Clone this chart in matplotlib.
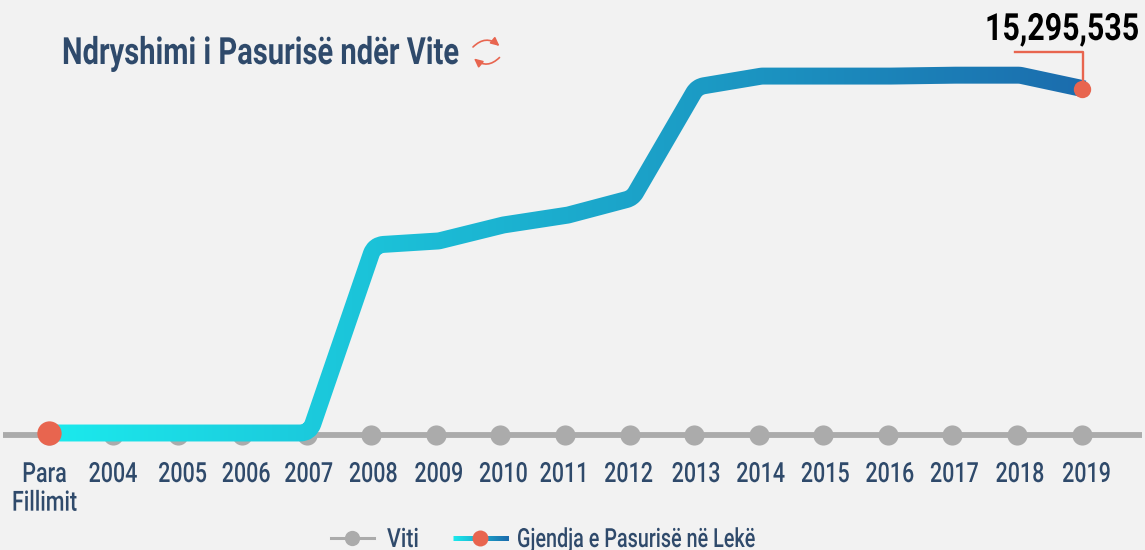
import numpy as np
import matplotlib
matplotlib.use('Agg')
import matplotlib.pyplot as plt
from matplotlib.patches import FancyArrowPatch, PathPatch, Rectangle
from matplotlib.path import Path
from matplotlib.colors import LinearSegmentedColormap
from matplotlib.patheffects import AbstractPathEffect
from matplotlib.transforms import Affine2D, IdentityTransform

labels = ['Para\nFillimit', '2004', '2005', '2006', '2007', '2008', '2009', '2010', '2011',
          '2012', '2013', '2014', '2015', '2016', '2017', '2018', '2019']
pasuria = [0, 0, 0, 0, 0, 8360000, 8540000, 9250000, 9690000, 10450000,
           15390000, 15870000, 15870000, 15870000, 15910000, 15910000, 15295535]
viti = [0] * 17
label_nudge = [-4, 0, 5, 4, 2, 2, 3, 3, -1, -1, 2, 2, 2, 2, 2, 3, 5]

W, H = 1145, 550
NAVY = '#2f4a6b'
RED = '#e8654f'
GREY = '#ababab'
BG = '#f2f2f2'
plt.rcParams['font.family'] = ['Roboto', 'DejaVu Sans']


# the original font is a condensed one, so squeeze the glyphs around an anchor
class Squeeze(AbstractPathEffect):
    def __init__(self, x0, sx):
        super().__init__()
        self.x0 = x0
        self.sx = sx

    def draw_path(self, renderer, gc, tpath, affine, rgbFace=None):
        squeeze = Affine2D().translate(-self.x0, 0).scale(self.sx, 1).translate(self.x0, 0)
        renderer.draw_path(gc, tpath, affine + squeeze, rgbFace)


fig = plt.figure(figsize=(W / 100, H / 100), dpi=100, facecolor=BG)
renderer = fig.canvas.get_renderer()
ax2 = fig.add_axes([0, 0, 1, 1])
ax = fig.add_axes([0, 0, 1, 1])
ax.patch.set_visible(False)
ax.axis('off')
ax2.axis('off')

# pixel layout of the category axis and the value axis
x_step = (1081.5 - 48.5) / 16
ax.set_xlim(-48.5 / x_step, (W - 48.5) / x_step)
y_step = 15295535 / (433 - 89)
ax.set_ylim(-(H - 433) * y_step, 433 * y_step)
ax2.set_xlim(ax.get_xlim())
ax2.set_ylim(-(H - 435), 435)

x = np.arange(len(labels))

# grey year line
ax2.plot([-0.7, 16.93], [0, 0], color=GREY, lw=4.2, solid_capstyle='butt')
ax2.plot(x, viti, 'o', color=GREY, ms=14.5, mew=0)

# rounded corners on the line, in display coordinates, stronger on sharp turns
pix = (ax.transData + Affine2D().translate(3, 0)).transform(np.column_stack([x, pasuria]))
verts = [pix[0]]
codes = [Path.MOVETO]
for a, b, c in zip(pix[:-2], pix[1:-1], pix[2:]):
    u = (b - a) / np.linalg.norm(b - a)
    v = (c - b) / np.linalg.norm(c - b)
    d = 8 * np.arccos(np.clip(u @ v, -1, 1))
    verts += [b - u * d, b, b + v * d]
    codes += [Path.LINETO, Path.CURVE3, Path.CURVE3]
verts.append(pix[-1])
codes.append(Path.LINETO)
line_path = Path(verts, codes)

# gradient line, drawn in thin vertical strips
cmap = LinearSegmentedColormap.from_list('pas', ['#1be9ec', '#1b6cad'])
for px in range(40, 1096, 4):
    t = np.clip((px - 49) / (1081 - 49), 0, 1)
    p = PathPatch(line_path, fill=False, ec=cmap(t), lw=12.2, transform=IdentityTransform(),
                  joinstyle='round', capstyle='butt')
    ax.add_patch(p)
    p.set_clip_path(Rectangle((px, 0), 4, H, transform=IdentityTransform()))

ax.plot(x[0], pasuria[0], 'o', color=RED, ms=17.5, mew=0, zorder=5)
ax.plot(x[-1], pasuria[-1], 'o', color=RED, ms=12.5, mew=0, zorder=5)


def px_xy(px, py):
    return px / W, 1 - py / H


def fig_text(px, py, s, target, ha='left', **kw):
    t = fig.text(*px_xy(px, py), s, ha=ha, va='baseline', **kw)
    sx = target / t.get_window_extent(renderer).width
    t.set_path_effects([Squeeze(px, sx)])
    return t


# category labels
probe = fig.text(0, 0, '2004', fontsize=20, fontweight='medium')
tick_sx = 49 / probe.get_window_extent(renderer).width
probe.remove()
for i, lab in enumerate(labels):
    t = ax.annotate(lab, (x[i], 0), xycoords=('data', 'axes fraction'),
                    xytext=(label_nudge[i] * 0.72, (H - 461) * 0.72), textcoords='offset points',
                    ha='center', va='top', fontsize=20, fontweight='medium', color=NAVY, linespacing=1.08)
    t.set_path_effects([Squeeze(ax.transData.transform((x[i], 0))[0] + label_nudge[i], tick_sx)])

# title and refresh icon
fig_text(62, 64, 'Ndryshimi i Pasurisë ndër Vite', 397, fontsize=27, fontweight='bold', color=NAVY)
for a, b in [((473, 47), (499.5, 46)), ((499.5, 57.5), (474, 58.5))]:
    fig.add_artist(FancyArrowPatch((a[0], H - a[1]), (b[0], H - b[1]), connectionstyle='arc3,rad=-0.45',
                                   arrowstyle='-|>,head_length=5,head_width=2.4', mutation_scale=1,
                                   color=RED, lw=1.2, shrinkA=0, shrinkB=0, transform=IdentityTransform()))

# value callout
fig_text(1139, 40, '15,295,535', 154, ha='right', fontsize=27, fontweight='bold', color='black')
pts = np.array([px_xy(1015, 52), px_xy(1083, 52), px_xy(1083, 88)])
fig.add_artist(plt.Line2D(pts[:, 0], pts[:, 1], transform=fig.transFigure, color=RED, lw=1.7))

# legend
ly = 1 - 537.5 / H
tf = fig.transFigure
fig.add_artist(plt.Line2D([331 / W, 374 / W], [ly, ly], transform=tf, color=GREY, lw=2.2))
fig.add_artist(plt.Line2D([352 / W], [ly], transform=tf, marker='o', color=GREY, ms=11, mew=0))
fig_text(387, 547, 'Viti', 32, fontsize=19, fontweight='medium', color=NAVY)
for px in range(453, 508):
    fig.add_artist(plt.Line2D([px / W, 508 / W], [ly, ly], transform=tf, color=cmap((px - 453) / 54),
                              lw=3.6, solid_capstyle='butt'))
fig.add_artist(plt.Line2D([480 / W], [ly], transform=tf, marker='o', color=RED, ms=11.5, mew=0))
fig_text(517, 547, 'Gjendja e Pasurisë në Lekë', 238, fontsize=19, fontweight='medium', color=NAVY)

fig.savefig('out.png', dpi=100, facecolor=BG)
